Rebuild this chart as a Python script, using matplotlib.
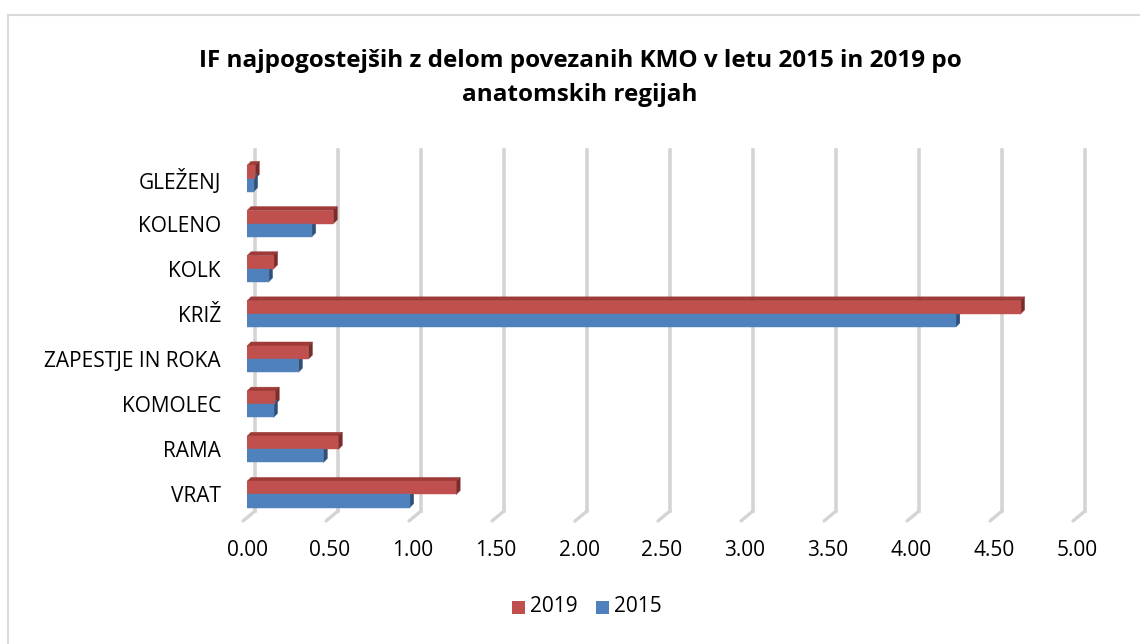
import matplotlib
matplotlib.use("Agg")
import matplotlib.pyplot as plt
import matplotlib.transforms as mtransforms
from matplotlib.patches import Polygon, Rectangle
from matplotlib.lines import Line2D
import numpy as np

categories = ["VRAT", "RAMA", "KOMOLEC", "ZAPESTJE IN ROKA", "KRIŽ", "KOLK", "KOLENO", "GLEŽENJ"]
values_2019 = [1.26, 0.55, 0.17, 0.37, 4.66, 0.16, 0.52, 0.05]
values_2015 = [0.98, 0.46, 0.16, 0.31, 4.27, 0.13, 0.39, 0.04]
xticks = [0.0, 0.5, 1.0, 1.5, 2.0, 2.5, 3.0, 3.5, 4.0, 4.5, 5.0]
title = "IF najpogostejših z delom povezanih KMO v letu 2015 in 2019 po\nanatomskih regijah"

RED = "#C0504D"
RED_TOP = "#9E3B38"
RED_SIDE = "#7B2C2A"
BLUE = "#4F81BD"
BLUE_TOP = "#3E6797"
BLUE_SIDE = "#2F5078"
GRID = "#D4D4D4"

W, H = 1140, 644
fig = plt.figure(figsize=(W / 100, H / 100), dpi=100)
fig.patch.set_facecolor("white")
FONT = ["Open Sans", "DejaVu Sans"]

ax_left, ax_right = 247, 1077
ax_top, ax_bot = 150, 520
ax = fig.add_axes([ax_left / W, 1 - ax_bot / H, (ax_right - ax_left) / W, (ax_bot - ax_top) / H])
ax.set_xlim(0, 5)
ylo = -0.51
yhi = ylo + (ax_bot - ax_top) / 45.14
ax.set_ylim(ylo, yhi)
for s in ax.spines.values():
    s.set_visible(False)
ax.set_xticks([])
ax.set_yticks([])
ax.patch.set_alpha(0)

gdx, gdy = 8 / 100, 9 / 100   # back-plane offset (inches)
bdx, bdy = 4 / 100, 4 / 100   # bar depth offset

blend = mtransforms.blended_transform_factory(ax.transData, ax.transAxes)
back_frac = gdy * 100 / (ax_bot - ax_top)
for xv in xticks:
    ax.add_line(Line2D([xv, xv], [back_frac, 1.0], color=GRID, lw=2.6,
                       transform=blend + mtransforms.ScaledTranslation(gdx, 0.0, fig.dpi_scale_trans),
                       zorder=1, clip_on=False))
    x0, y0 = (blend + mtransforms.ScaledTranslation(-0.04, -0.01, fig.dpi_scale_trans)).transform((xv, 0.0))
    x1, y1 = (blend + mtransforms.ScaledTranslation(gdx, gdy, fig.dpi_scale_trans)).transform((xv, 0.0))
    fig.add_artist(Line2D([x0 / W, x1 / W], [y0 / H, y1 / H], color=GRID, lw=2.4,
                          transform=fig.transFigure, zorder=1, solid_capstyle="round"))

h = 0.29
y = np.arange(len(categories))
off_red = 0.2
off_blue = -0.09


def bar3d(val, yc, face, top, side):
    y0, y1 = yc - h / 2, yc + h / 2
    ax.barh(yc, val, height=h, left=0, color=face, edgecolor=face, lw=0.3, zorder=3)
    tr = ax.transData
    a = tr.transform((0, y1))
    b = tr.transform((val, y1))
    dv = np.array([bdx * 100, bdy * 100])
    c = b + dv
    d = a + dv
    inv = fig.transFigure.inverted()
    ax.add_patch(Polygon(inv.transform(np.array([a, b, c, d])), closed=True, facecolor=top,
                         edgecolor=top, lw=0.3, transform=fig.transFigure, zorder=2, clip_on=False))
    e = tr.transform((val, y0))
    f = e + dv
    ax.add_patch(Polygon(inv.transform(np.array([b, e, f, c])), closed=True, facecolor=side,
                         edgecolor=side, lw=0.3, transform=fig.transFigure, zorder=2, clip_on=False))


for i in range(len(categories) - 1, -1, -1):
    bar3d(values_2019[i], y[i] + off_red, RED, RED_TOP, RED_SIDE)
    bar3d(values_2015[i], y[i] + off_blue, BLUE, BLUE_TOP, BLUE_SIDE)

for i, cat in enumerate(categories):
    fig.text(221 / W, 1 - (497 - (i * 45.14)) / H, cat, ha="right", va="center",
             fontsize=15, family=FONT, color="#000000")

for xv in xticks:
    px = ax_left + (ax_right - ax_left) * xv / 5.0
    fig.text(px / W, 1 - 551 / H, f"{xv:.2f}", ha="center", va="center",
             fontsize=15, family=FONT, color="#000000")

fig.text(580 / W, 1 - 78 / H, title, ha="center", va="center", fontsize=17.5,
         fontweight="bold", family=FONT, color="#000000", linespacing=1.55)

fig.add_artist(Rectangle((512 / W, 1 - 614 / H), 13 / W, 13 / H, facecolor=RED,
                         edgecolor="none", transform=fig.transFigure))
fig.text(530 / W, 1 - 607 / H, "2019", ha="left", va="center", fontsize=15,
         family=FONT, color="#000000")
fig.add_artist(Rectangle((596 / W, 1 - 614 / H), 13 / W, 13 / H, facecolor=BLUE,
                         edgecolor="none", transform=fig.transFigure))
fig.text(614 / W, 1 - 607 / H, "2015", ha="left", va="center", fontsize=15,
         family=FONT, color="#000000")

fig.add_artist(Line2D([8 / W, 1.0], [1 - 15 / H, 1 - 15 / H], color="#D9D9D9", lw=1.5,
                      transform=fig.transFigure))
fig.add_artist(Line2D([8 / W, 8 / W], [0.0, 1 - 15 / H], color="#D9D9D9", lw=1.5,
                      transform=fig.transFigure))

fig.savefig("out.png", dpi=100, facecolor="white")
